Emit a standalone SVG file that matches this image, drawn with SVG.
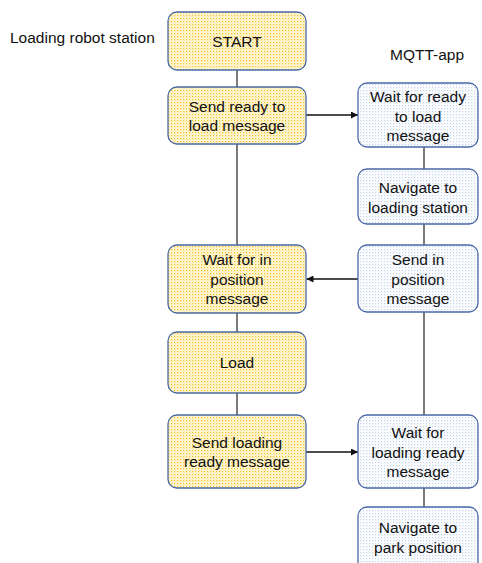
<svg xmlns="http://www.w3.org/2000/svg" width="482" height="563" viewBox="0 0 482 563">
  <defs>
    <pattern id="dotsYellow" width="3" height="3" patternUnits="userSpaceOnUse">
      <rect width="3" height="3" fill="#fff8dc"/>
      <rect x="0" y="0" width="1.2" height="1.2" fill="#f3c21a"/>
      <rect x="1.5" y="1.5" width="0.9" height="0.9" fill="#f8dc6e"/>
    </pattern>
    <pattern id="dotsBlue" width="3" height="3" patternUnits="userSpaceOnUse">
      <rect width="3" height="3" fill="#ffffff"/>
      <rect x="0" y="0" width="1.2" height="1.2" fill="#c3d2ec"/>
      <rect x="1.5" y="1.5" width="0.9" height="0.9" fill="#e2e9f6"/>
    </pattern>
    <marker id="arrow" viewBox="0 0 10 10" refX="10" refY="5" markerWidth="7" markerHeight="7" markerUnits="userSpaceOnUse" orient="auto">
      <path d="M0,0 L10,5 L0,10 Z" fill="#111"/>
    </marker>
    <style>
      .station rect { fill: url(#dotsYellow); stroke: #4a69a6; stroke-width: 1.3; }
      .app rect { fill: url(#dotsBlue); stroke: #4a69a6; stroke-width: 1.3; }
      text { font-family: "Liberation Sans", Arial, sans-serif; font-size: 15.5px; fill: #111; text-anchor: middle; }
      .title { text-anchor: start; }
      #connectors line { stroke: #222; stroke-width: 1.2; fill: none; }
      #connectors .flow { stroke: #111; stroke-width: 1.4; marker-end: url(#arrow); }
    </style>
  </defs>

  <!-- column headings -->
  <text class="title" x="10" y="43">Loading robot station</text>
  <text class="title" x="390" y="60">MQTT-app</text>

  <!-- connectors -->
  <g id="connectors">
    <line x1="237" y1="70" x2="237" y2="87"/>
    <line x1="237" y1="144" x2="237" y2="245"/>
    <line x1="237" y1="313" x2="237" y2="332"/>
    <line x1="237" y1="393" x2="237" y2="415"/>
    <line x1="424" y1="147" x2="424" y2="169"/>
    <line x1="424" y1="224" x2="424" y2="245"/>
    <line x1="424" y1="312" x2="424" y2="415"/>
    <line x1="424" y1="488" x2="424" y2="507"/>
    <line class="flow" x1="306" y1="115" x2="358" y2="115"/>
    <line class="flow" x1="358" y1="279" x2="306.5" y2="279"/>
    <line class="flow" x1="306" y1="452" x2="358" y2="452"/>
  </g>

  <!-- loading robot station -->
  <g id="start" class="station">
    <rect x="168" y="12" width="138" height="58" rx="9"/>
    <text x="237" y="46.5">START</text>
  </g>
  <g id="send-ready" class="station">
    <rect x="168" y="87" width="138" height="57" rx="9"/>
    <text x="237" y="111.5">Send ready to</text>
    <text x="237" y="131">load message</text>
  </g>
  <g id="wait-in-position" class="station">
    <rect x="168" y="245" width="138" height="68" rx="9"/>
    <text x="237" y="265">Wait for in</text>
    <text x="237" y="284.5">position</text>
    <text x="237" y="304">message</text>
  </g>
  <g id="load" class="station">
    <rect x="168" y="332" width="138" height="61" rx="9"/>
    <text x="237" y="368">Load</text>
  </g>
  <g id="send-loading-ready" class="station">
    <rect x="168" y="415" width="138" height="73" rx="9"/>
    <text x="237" y="447.5">Send loading</text>
    <text x="237" y="467">ready message</text>
  </g>

  <!-- MQTT-app -->
  <g id="wait-ready" class="app">
    <rect x="358" y="83" width="120" height="64" rx="9"/>
    <text x="418" y="102">Wait for ready</text>
    <text x="418" y="121.5">to load</text>
    <text x="418" y="141">message</text>
  </g>
  <g id="navigate-station" class="app">
    <rect x="358" y="169" width="120" height="55" rx="9"/>
    <text x="418" y="193">Navigate to</text>
    <text x="418" y="212.5">loading station</text>
  </g>
  <g id="send-in-position" class="app">
    <rect x="358" y="245" width="120" height="67" rx="9"/>
    <text x="418" y="265">Send in</text>
    <text x="418" y="284.5">position</text>
    <text x="418" y="304">message</text>
  </g>
  <g id="wait-loading-ready" class="app">
    <rect x="358" y="415" width="120" height="73" rx="9"/>
    <text x="418" y="437.5">Wait for</text>
    <text x="418" y="457.5">loading ready</text>
    <text x="418" y="477">message</text>
  </g>
  <g id="navigate-park" class="app">
    <rect x="358" y="507" width="120" height="66" rx="9"/>
    <text x="418" y="533">Navigate to</text>
    <text x="418" y="552.5">park position</text>
  </g>
</svg>
